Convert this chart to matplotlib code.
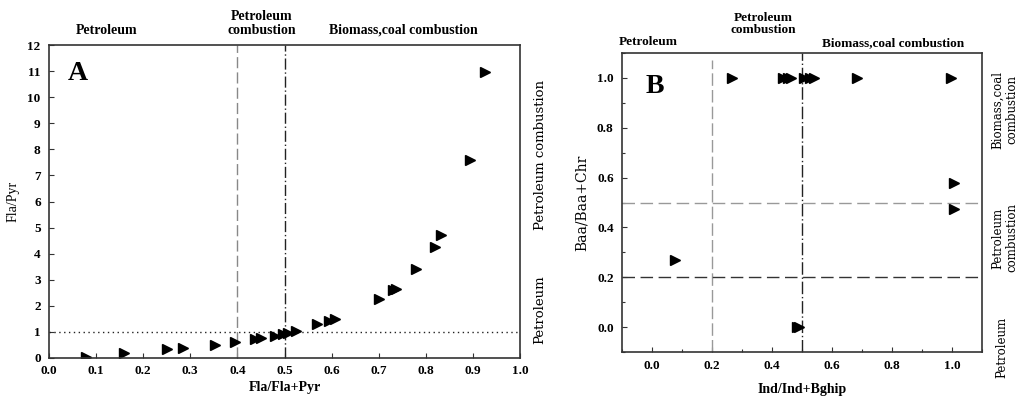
import matplotlib
matplotlib.use("Agg")
import matplotlib.pyplot as plt
from matplotlib.ticker import MultipleLocator

# ---- Data ----
a_x = [0.078, 0.16, 0.25, 0.285, 0.353, 0.395, 0.437, 0.45, 0.48, 0.497, 0.507,
       0.525, 0.57, 0.595, 0.607, 0.70, 0.73, 0.736, 0.78, 0.82, 0.833, 0.894, 0.926]
a_y = [0.05, 0.2, 0.33, 0.37, 0.5, 0.6, 0.72, 0.78, 0.85, 0.92, 0.97,
       1.05, 1.3, 1.4, 1.48, 2.25, 2.6, 2.65, 3.4, 4.27, 4.73, 7.6, 10.96]

b_x = [0.077, 0.267, 0.435, 0.452, 0.463, 0.508, 0.525, 0.541, 0.684, 0.997,
       1.008, 1.008, 0.483, 0.49]
b_y = [0.27, 1.0, 1.0, 1.0, 1.0, 1.0, 1.0, 1.0, 1.0, 1.0,
       0.578, 0.473, 0.0, 0.0]

a_xticks = [0.0, 0.1, 0.2, 0.3, 0.4, 0.5, 0.6, 0.7, 0.8, 0.9, 1.0]
a_yticks = list(range(0, 13))
b_xticks = [0.0, 0.2, 0.4, 0.6, 0.8, 1.0]
b_yticks = [0.0, 0.2, 0.4, 0.6, 0.8, 1.0]

SERIF = ["Liberation Serif", "DejaVu Serif"]
plt.rcParams['font.family'] = SERIF

fig = plt.figure(figsize=(10.24, 3.99), dpi=100)

def fx(px):
    return px / 1024.0

def fy(py):
    return 1 - py / 399.0

axA = fig.add_axes([fx(49), fy(358), fx(520 - 49), fy(45) - fy(358)])
axB = fig.add_axes([fx(622), fy(352), fx(982 - 622), fy(53) - fy(352)])

spine_col = "#333333"
for ax in (axA, axB):
    for s in ax.spines.values():
        s.set_color(spine_col)
        s.set_linewidth(1.2)
    ax.tick_params(direction='in', which='both', top=False, right=False,
                   color=spine_col, width=0.8)
    ax.tick_params(which='major', length=3.5, labelsize=9.5)
    ax.tick_params(which='minor', length=2)

# ---- Panel A ----
axA.set_xlim(0, 1.0)
axA.set_ylim(0, 12)
axA.set_xticks(a_xticks)
axA.set_xticklabels([f"{v:.1f}" for v in a_xticks], fontweight='bold')
axA.set_yticks(a_yticks)
axA.set_yticklabels([str(v) for v in a_yticks], fontweight='bold')
axA.tick_params(axis='y', pad=6)
axA.tick_params(axis='x', pad=5)
axA.axvline(0.4, color="#888888", lw=1.0, ls=(0, (8, 3)))
axA.axvline(0.5, color="#222222", lw=1.0, ls=(0, (8, 2, 1, 2)))
axA.axhline(1.0, color="#222222", lw=1.0, ls=(0, (1, 2.5)))
axA.plot(a_x, a_y, ls='none', marker='>', color='black', ms=7.5)
axA.set_xlabel("Fla/Fla+Pyr", fontsize=10, fontweight='bold', labelpad=3)
axA.set_ylabel("Fla/Pyr", fontsize=10, labelpad=6)
axA.text(0.04, 0.95, "A", transform=axA.transAxes, fontsize=20,
         fontweight='bold', va='top', ha='left')

# top headings A
fig.text(fx(107), fy(31), "Petroleum", fontsize=10, fontweight='bold',
         ha='center', va='center')
fig.text(fx(262), fy(24), "Petroleum\ncombustion", fontsize=10, fontweight='bold',
         ha='center', va='center', linespacing=1.1)
fig.text(fx(403), fy(30), "Biomass,coal combustion", fontsize=10,
         fontweight='bold', ha='center', va='center')
# right labels A
fig.text(fx(540), fy(155), "Petroleum combustion", fontsize=9.5,
         family=["DejaVu Serif"], rotation=90, ha='center', va='center')
fig.text(fx(540), fy(310), "Petroleum", fontsize=9.5,
         family=["DejaVu Serif"], rotation=90, ha='center', va='center')

# ---- Panel B ----
axB.set_xlim(-0.1, 1.1)
axB.set_ylim(-0.1, 1.1)
axB.set_xticks(b_xticks)
axB.set_xticklabels([f"{v:.1f}" for v in b_xticks], fontweight='bold')
axB.set_yticks(b_yticks)
axB.set_yticklabels([f"{v:.1f}" for v in b_yticks], fontweight='bold')
axB.xaxis.set_minor_locator(MultipleLocator(0.1))
axB.yaxis.set_minor_locator(MultipleLocator(0.1))
axB.tick_params(axis='x', pad=6)
axB.tick_params(axis='y', pad=6)
axB.plot([0.2, 0.2], [-0.1, 1.07], color="#999999", lw=1.0, ls=(0, (9, 3)))
axB.axvline(0.5, color="#222222", lw=1.0, ls=(0, (9, 2, 1, 2)))
axB.axhline(0.5, color="#999999", lw=1.0, ls=(0, (9, 4)))
axB.axhline(0.2, color="#333333", lw=1.0, ls=(0, (9, 4)))
axB.plot(b_x, b_y, ls='none', marker='>', color='black', ms=7.5)
axB.set_xlabel("Ind/Ind+Bghip", fontsize=10, fontweight='bold', labelpad=8)
axB.set_ylabel("Baa/Baa+Chr", fontsize=10, family=["DejaVu Serif"], labelpad=6)
axB.text(0.065, 0.93, "B", transform=axB.transAxes, fontsize=20,
         fontweight='bold', va='top', ha='left')

fig.text(fx(648), fy(42), "Petroleum", fontsize=9.5, fontweight='bold',
         ha='center', va='center')
fig.text(fx(763), fy(24), "Petroleum\ncombustion", fontsize=9.5, fontweight='bold',
         ha='center', va='center', linespacing=1.1)
fig.text(fx(893), fy(43), "Biomass,coal combustion", fontsize=9.5,
         fontweight='bold', ha='center', va='center')

fig.text(fx(1005), fy(110), "Biomass,coal\ncombustion", fontsize=8.5,
         family=["DejaVu Serif"], rotation=90, ha='center', va='center',
         linespacing=1.1)
fig.text(fx(1005), fy(238), "Petroleum\ncombustion", fontsize=8.5,
         family=["DejaVu Serif"], rotation=90, ha='center', va='center',
         linespacing=1.1)
fig.text(fx(1002), fy(347), "Petroleum", fontsize=8.5,
         family=["DejaVu Serif"], rotation=90, ha='center', va='center')

fig.savefig("out.png", dpi=100)
